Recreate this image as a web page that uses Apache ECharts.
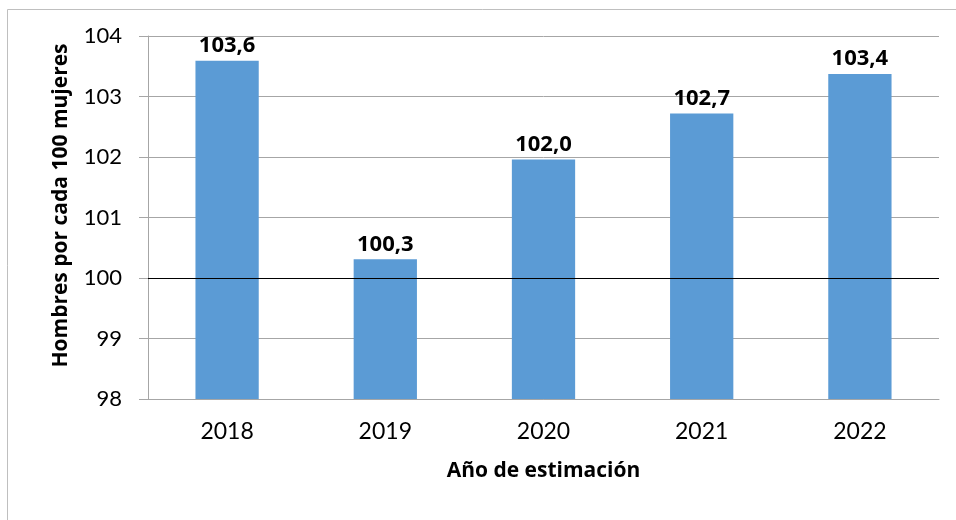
<!DOCTYPE html>
<html>
<head>
<meta charset="utf-8">
<script src="https://cdn.jsdelivr.net/npm/echarts@6/dist/echarts.min.js"></script>
<style>
  html, body { margin: 0; padding: 0; background: #fff; }
  #chart { width: 956px; height: 520px; }
</style>
</head>
<body>
<div id="chart"></div>
<script>
const years = ['2018', '2019', '2020', '2021', '2022']
const ratio = [103.59, 100.31, 101.96, 102.72, 103.37]
const yMin = 98
const yMax = 104
const refLine = 100

const font = 'Lato, "Open Sans", sans-serif'
const boldFont = '"Open Sans", Lato, sans-serif'
const chart = echarts.init(document.getElementById('chart'))

const option = {
  animation: false,
  backgroundColor: '#fff',
  textStyle: { fontFamily: font },
  graphic: [
    {
      type: 'rect',
      left: 5,
      top: 7,
      shape: { width: 1000, height: 600 },
      style: { fill: 'none', stroke: '#bfbfbf', lineWidth: 1 },
      silent: true,
    },
  ],
  grid: { left: 148, right: 17, top: 36, bottom: 121 },
  xAxis: {
    type: 'category',
    data: years,
    name: 'Año de estimación',
    nameLocation: 'middle',
    nameGap: 62,
    nameTextStyle: { fontSize: 21, fontWeight: 'bold', color: '#000', fontFamily: boldFont },
    axisLine: { lineStyle: { color: '#a6a6a6' } },
    axisTick: { length: 8, lineStyle: { color: '#a6a6a6' } },
    axisLabel: { fontSize: 23, color: '#000', margin: 21, fontFamily: font },
  },
  yAxis: {
    type: 'value',
    min: yMin,
    max: yMax,
    interval: 1,
    name: 'Hombres por cada 100 mujeres',
    nameLocation: 'middle',
    nameGap: 76,
    nameTextStyle: {
      fontSize: 21, fontWeight: 'bold', color: '#000', fontFamily: boldFont,
      padding: [0, 0, 0, 24],
    },
    axisLine: { show: true, lineStyle: { color: '#a6a6a6' } },
    axisTick: { show: true, length: 9, lineStyle: { color: '#a6a6a6' } },
    axisLabel: { fontSize: 22, color: '#000', margin: 26, fontFamily: font },
    splitLine: { lineStyle: { color: '#a6a6a6' } },
  },
  series: [
    {
      type: 'bar',
      data: ratio,
      barWidth: '40%',
      itemStyle: { color: '#5b9bd5' },
      label: {
        show: true,
        position: 'top',
        distance: 4,
        fontSize: 22,
        fontWeight: 'bold',
        color: '#000',
        fontFamily: boldFont,
        formatter: (p) => p.value.toFixed(1).replace('.', ','),
      },
      markLine: {
        silent: true,
        symbol: 'none',
        label: { show: false },
        lineStyle: { color: '#000', width: 1.2, type: 'solid' },
        data: [{ yAxis: refLine }],
      },
    },
  ],
}

chart.setOption(option)
</script>
</body>
</html>
